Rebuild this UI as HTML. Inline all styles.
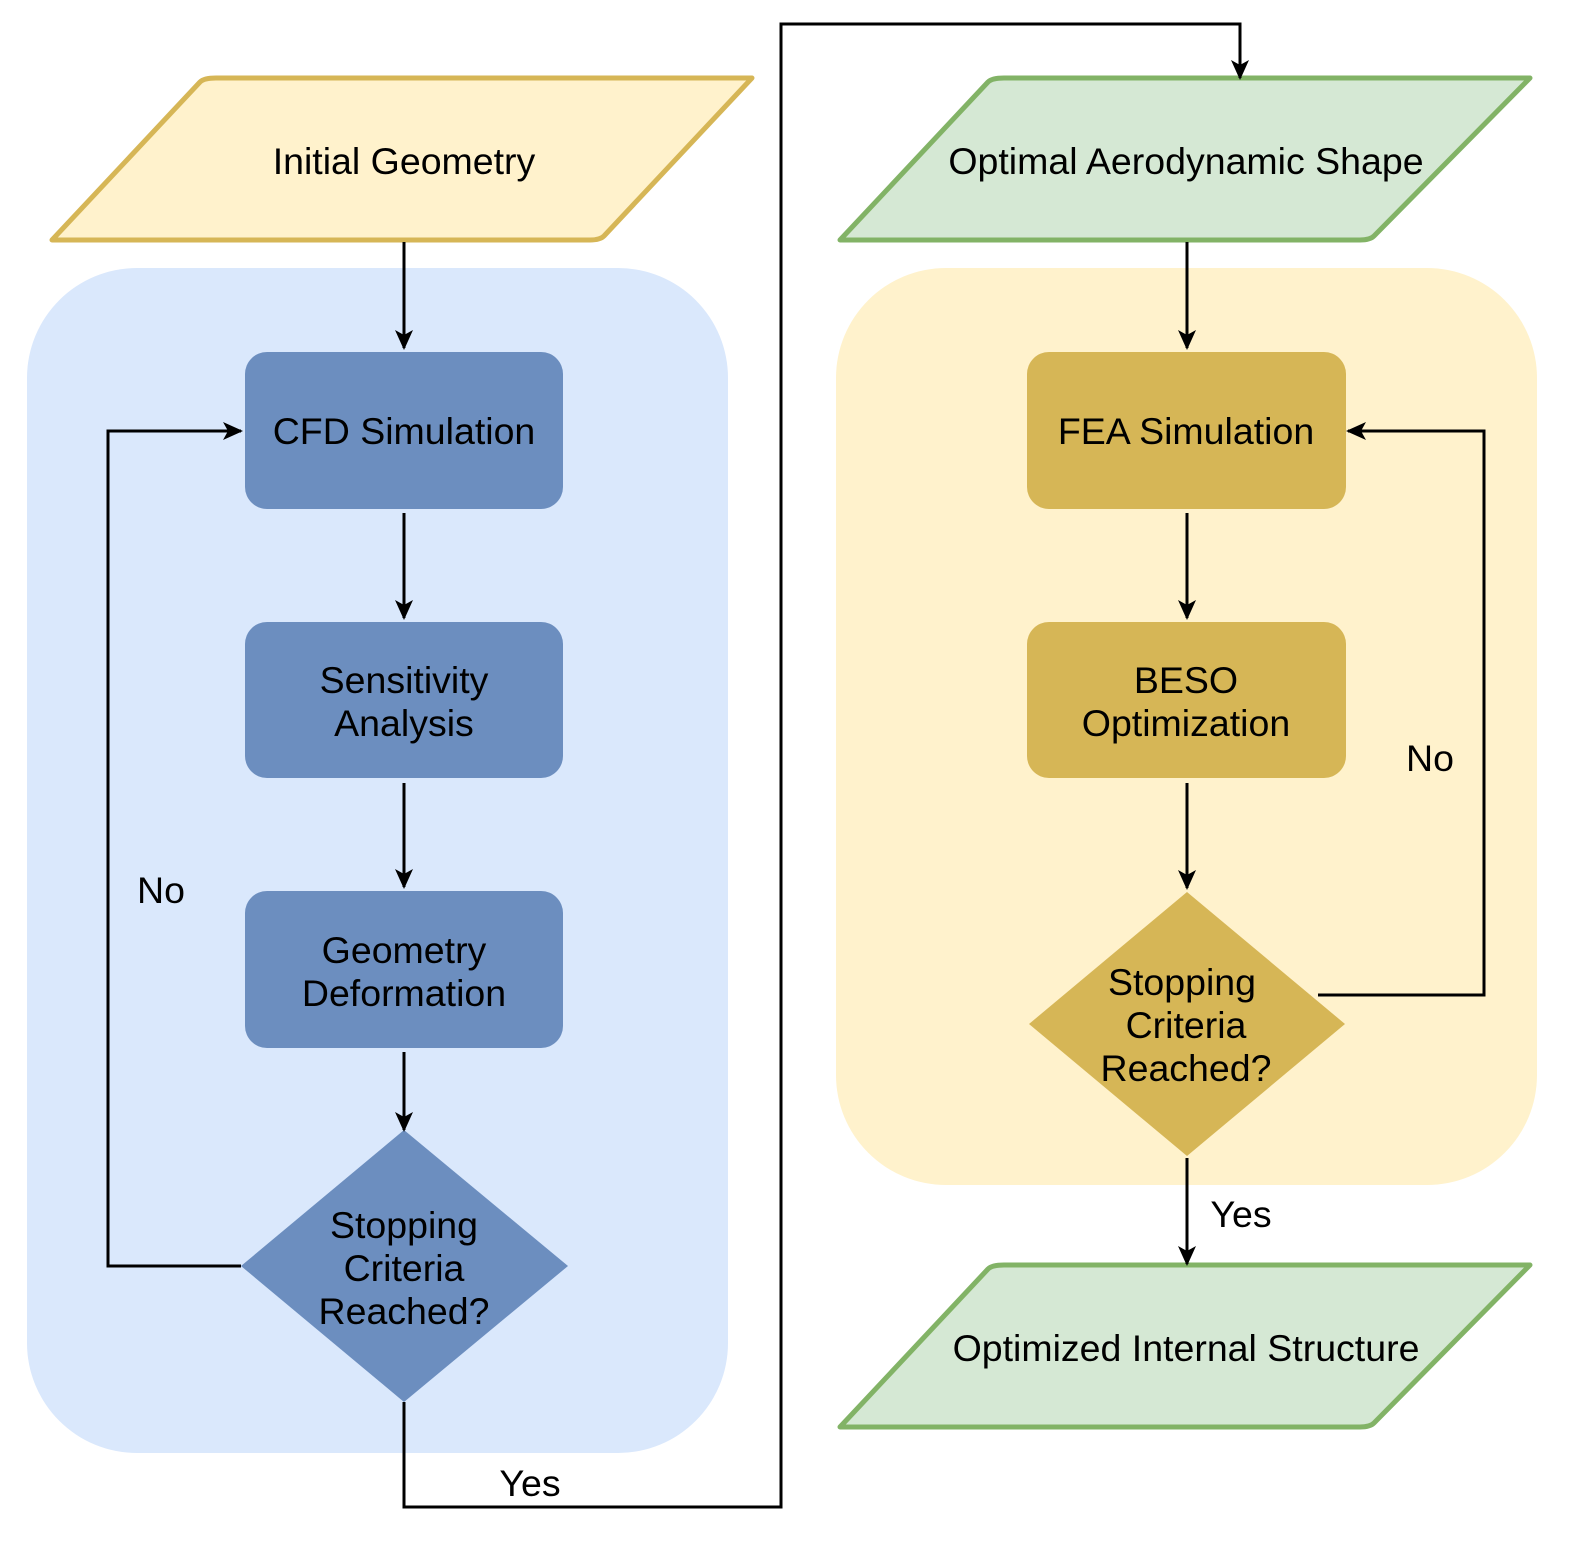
<!DOCTYPE html>
<html><head><meta charset="utf-8"><style>
html,body{margin:0;padding:0;background:#fff;}
svg{display:block;}
text{font-family:"Liberation Sans",Arial,sans-serif;font-size:37.5px;fill:#000;text-anchor:middle;}
</style></head><body>
<svg width="1574" height="1546" viewBox="0 0 1574 1546" xmlns="http://www.w3.org/2000/svg">
<defs>
<marker id="a" markerWidth="20" markerHeight="20" refX="18" refY="10" orient="auto" markerUnits="userSpaceOnUse" viewBox="0 0 20 20">
<path d="M0,1 L20,10 L0,19 L5,10 Z" fill="#000"/>
</marker>
</defs>
<rect x="27" y="268" width="701" height="1185" rx="110" fill="#dae8fc"/>
<rect x="836" y="268" width="701" height="917" rx="110" fill="#fff2cc"/>

<path d="M216,78 L752,78 L604,236 Q600,240 590,240 L52,240 L200,82 Q204,78 216,78 Z" fill="#fff2cc" stroke="#d6b656" stroke-width="5" stroke-linejoin="round"/>
<text x="404" y="174">Initial Geometry</text>
<path d="M1004,78 L1530,78 L1374,236 Q1370,240 1360,240 L840,240 L988,82 Q992,78 1004,78 Z" fill="#d5e8d4" stroke="#82b366" stroke-width="5" stroke-linejoin="round"/>
<text x="1186" y="174">Optimal Aerodynamic Shape</text>
<path d="M1004,1265 L1530,1265 L1374,1423 Q1370,1427 1360,1427 L840,1427 L988,1269 Q992,1265 1004,1265 Z" fill="#d5e8d4" stroke="#82b366" stroke-width="5" stroke-linejoin="round"/>
<text x="1186" y="1361">Optimized Internal Structure</text>

<rect x="245" y="352" width="318" height="157" rx="22" fill="#6c8ebf"/>
<text x="404" y="444">CFD Simulation</text>
<rect x="245" y="622" width="318" height="156" rx="22" fill="#6c8ebf"/>
<text x="404" y="693">Sensitivity</text><text x="404" y="736">Analysis</text>
<rect x="245" y="891" width="318" height="157" rx="22" fill="#6c8ebf"/>
<text x="404" y="963">Geometry</text><text x="404" y="1006">Deformation</text>
<path d="M404,1130 L568,1266 L404,1402 L241,1266 Z" fill="#6c8ebf"/>
<text x="404" y="1238">Stopping</text><text x="404" y="1281">Criteria</text><text x="404" y="1324">Reached?</text>

<rect x="1027" y="352" width="319" height="157" rx="22" fill="#d6b656"/>
<text x="1186" y="444">FEA Simulation</text>
<rect x="1027" y="622" width="319" height="156" rx="22" fill="#d6b656"/>
<text x="1186" y="693">BESO</text><text x="1186" y="736">Optimization</text>
<path d="M1187,892 L1345,1024 L1187,1156 L1029,1024 Z" fill="#d6b656"/>
<text x="1182" y="995">Stopping</text><text x="1186" y="1038">Criteria</text><text x="1186" y="1081">Reached?</text>

<g stroke="#000" stroke-width="3" fill="none">
<path d="M404,242 V348" marker-end="url(#a)"/>
<path d="M404,513 V618" marker-end="url(#a)"/>
<path d="M404,783 V887" marker-end="url(#a)"/>
<path d="M404,1052 V1130" marker-end="url(#a)"/>
<path d="M241,1266 H108 V431 H241" marker-end="url(#a)"/>
<path d="M404,1402 V1507 H781 V24 H1240 V78" marker-end="url(#a)"/>
<path d="M1187,242 V348" marker-end="url(#a)"/>
<path d="M1187,513 V618" marker-end="url(#a)"/>
<path d="M1187,783 V888" marker-end="url(#a)"/>
<path d="M1318,995 H1484 V431 H1348" marker-end="url(#a)"/>
<path d="M1187,1158 V1264" marker-end="url(#a)"/>
</g>
<text x="161" y="903">No</text>
<text x="1430" y="771">No</text>
<text x="530" y="1496">Yes</text>
<text x="1241" y="1227">Yes</text>
</svg>
</body></html>
